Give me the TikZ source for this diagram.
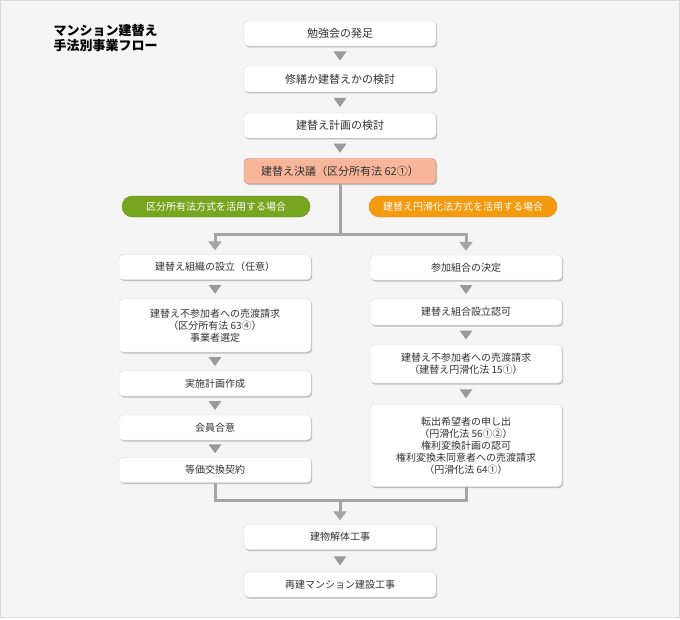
\documentclass[tikz,border=0pt]{standalone}
\usepackage{fontspec}
\setmainfont{Noto Sans CJK JP}
\usetikzlibrary{arrows.meta,shadows,decorations.markings}
\definecolor{bgGray}{HTML}{F5F5F5}
\definecolor{frameGray}{HTML}{DADADA}
\definecolor{lineGray}{HTML}{A5A5A5}
\definecolor{triGray}{HTML}{9A9A9A}
\definecolor{textGray}{HTML}{333333}
\definecolor{salmon}{HTML}{F7B59A}
\definecolor{tagGreenFill}{HTML}{76A520}
\definecolor{tagOrangeFill}{HTML}{F39A0E}
\begin{document}
\begin{tikzpicture}
        [x=1bp, y=-1bp,
        box/.style={rectangle, rounded corners=4bp, draw=black!15, fill=white, text=textGray, minimum width=192bp, minimum height=25bp, inner sep=0pt, align=center, font={\fontsize{10bp}{12bp}\selectfont},
            drop shadow={shadow xshift=1.2bp, shadow yshift=-1.5bp, opacity=0.22, fill=black}},
        boxTop/.style={box, font={\fontsize{11bp}{13bp}\selectfont}},
        boxSalmon/.style={boxTop, fill=salmon, draw=salmon!80!black},
        tagGreen/.style={rectangle, rounded corners=10.5bp, fill=tagGreenFill, draw=tagGreenFill!85!black, text=white, minimum width=188bp, minimum height=21bp, inner sep=0pt, font={\fontsize{10bp}{12bp}\selectfont}},
        tagOrange/.style={tagGreen, fill=tagOrangeFill, draw=tagOrangeFill!90!black},
        flow/.style={draw=lineGray, line width=3bp},
        flowArrow/.style={flow, -{Triangle[width=13bp,length=9bp]}, shorten >=4bp},
        tri/.style={postaction={decorate}, decoration={markings, mark=at position 0.5 with {\fill[triGray] (-4.5bp,6.5bp) -- (4.5bp,0bp) -- (-4.5bp,-6.5bp) -- cycle;}}}]
        \path[use as bounding box] (0,0) rectangle (680,620);
        \filldraw[fill=bgGray, draw=frameGray] (0.5,0.5) rectangle (679.5,617.5);

        \node[anchor=north west, align=left, text=black, font={\fontsize{13bp}{15bp}\selectfont\bfseries}] (T) at (50,21) {マンション建替え\\手法別事業フロー};

        \node[boxTop] (S1) at (340,33.5) {勉強会の発足};
        \node[boxTop, minimum height=26bp] (S2) at (340,79) {修繕か建替えかの検討};
        \node[boxTop] (S3) at (340,125.5) {建替え計画の検討};
        \node[boxSalmon] (S4) at (340,171) {建替え決議（区分所有法 62①）};

        \node[tagGreen] (G) at (216,206.5) {区分所有法方式を活用する場合};
        \node[tagOrange] (O) at (463,206.5) {建替え円滑化法方式を活用する場合};

        \node[box] (L1) at (215,267) {建替え組織の設立（任意）};
        \node[box, minimum height=53bp] (L2) at (215,325.5) {建替え不参加者への売渡請求\\（区分所有法 63④）\\事業者選定};
        \node[box] (L3) at (215,383.5) {実施計画作成};
        \node[box] (L4) at (215,427.5) {会員合意};
        \node[box] (L5) at (215,470) {等価交換契約};

        \node[box] (R1) at (466,267.5) {参加組合の決定};
        \node[box, minimum height=26bp] (R2) at (466,312) {建替え組合設立認可};
        \node[box, minimum height=38bp] (R3) at (466,364) {建替え不参加者への売渡請求\\（建替え円滑化法 15①）};
        \node[box, minimum height=82bp] (R4) at (466,445.5) {転出希望者の申し出\\（円滑化法 56①②）\\権利変換計画の認可\\権利変換未同意者への売渡請求\\（円滑化法 64①）};

        \node[box] (B1) at (340,537) {建物解体工事};
        \node[box] (B2) at (340,584.5) {再建マンション建設工事};

        \coordinate (Sp) at (340,234);
        \coordinate (M) at (340,500);

        \path[tri] (S1) -- (S2);
        \path[tri] (S2) -- (S3);
        \path[tri] (S3) -- (S4);
        \path[tri] (L1) -- (L2);
        \path[tri] (L2) -- (L3);
        \path[tri] (L3) -- (L4);
        \path[tri] (L4) -- (L5);
        \path[tri] (R1) -- (R2);
        \path[tri] (R2) -- (R3);
        \path[tri] (R3) -- (R4);
        \path[tri] (B1) -- (B2);

        \draw[flow] (S4) -- (Sp);
        \draw[flowArrow] (Sp) -| (L1);
        \draw[flowArrow] (Sp) -| (R1);
        \draw[flow] (L5) |- (M);
        \draw[flow] (R4) |- (M);
        \draw[flowArrow] (M) -- (B1);

    \end{tikzpicture}
\end{document}
